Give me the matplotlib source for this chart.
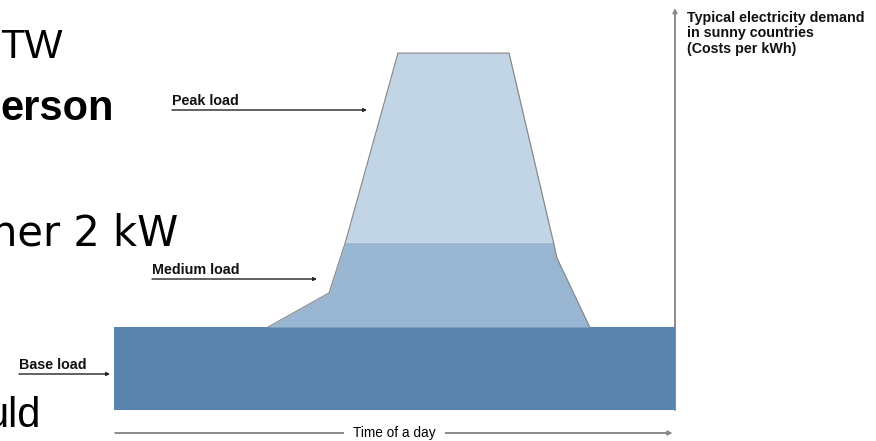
import numpy as np
import matplotlib.pyplot as plt

# load profile over one day (hours, demand in arbitrary cost units)
day_hours = [0, 24]
base_load = 10.0
medium_level = 20.2
profile_hours = [6.6, 9.2, 9.9, 12.15, 16.9, 18.8, 18.95, 20.35]
profile_demand = [10.0, 14.1, 20.2, 43.0, 43.0, 20.2, 18.3, 10.0]

base_color = '#5a84ad'
medium_color = '#98b6d2'
peak_color = '#c2d5e6'
axis_gray = '#8a8a8a'

W, H = 876, 441
fig = plt.figure(figsize=(W / 100, H / 100), dpi=100)
ax = fig.add_axes([0, 0, 1, 1])

# pixel layout of the day axis
x_left, x_right, y_zero = 114, 675, 410
hour_px = (x_right - x_left) / 24
unit_px = 8.3
ax.set_xlim(-x_left / hour_px, (W - x_left) / hour_px)
ax.set_ylim((y_zero - H) / unit_px, y_zero / unit_px)
ax.axis('off')


def fp(x, y):
    # figure fraction from pixel position
    return (x / W, 1 - y / H)


hours = np.array(profile_hours)
demand = np.array(profile_demand)

ax.fill_between(day_hours, 0, base_load, color=base_color, lw=0, zorder=1)
ax.fill_between(hours, base_load, np.minimum(demand, medium_level),
                color=medium_color, lw=0, zorder=2)
ax.fill_between(hours, medium_level, np.maximum(demand, medium_level),
                where=demand >= medium_level, color=peak_color, lw=0, zorder=2)
ax.plot(hours, demand, color=axis_gray, lw=0.9, zorder=3)

# axes arrows
ax.annotate('', xy=(24, (y_zero - 8) / unit_px), xytext=(24, 0),
            arrowprops=dict(arrowstyle='-|>', color=axis_gray, lw=1.4,
                            mutation_scale=6, shrinkA=0, shrinkB=0), zorder=0)
y_time = (y_zero - 433) / unit_px
ax.annotate('', xy=(23.9, y_time), xytext=(0.05, y_time),
            arrowprops=dict(arrowstyle='-|>', color=axis_gray, lw=1.4,
                            mutation_scale=6, shrinkA=0, shrinkB=0))
ax.text(12.0, y_time, 'Time of a day', family='Liberation Sans', fontsize=9.8,
        ha='center', va='center',
        bbox=dict(facecolor='white', edgecolor='none', pad=7))

ax.text(*fp(687, 11), 'Typical electricity demand\nin sunny countries\n(Costs per kWh)',
        transform=fig.transFigure, family='Liberation Sans', weight='bold',
        fontsize=10.3, va='top', ha='left', linespacing=1.12, color='#111111')

# load labels with pointer arrows
labels = [('Peak load', 172, 367, 110), ('Medium load', 152, 317, 279),
          ('Base load', 19, 110, 374)]
for text, x0, x1, y in labels:
    ax.text(*fp(x0, y - 5), text, transform=fig.transFigure,
            family='Liberation Sans', weight='bold', fontsize=10.3,
            va='baseline', ha='left', color='#111111')
    ax.annotate('', xy=fp(x1, y), xytext=fp(x0, y), xycoords='figure fraction',
                textcoords='figure fraction',
                arrowprops=dict(arrowstyle='-|>', color='#222222', lw=1.0,
                                mutation_scale=5, shrinkA=0, shrinkB=0))

# slide text behind the diagram
ax.text(*fp(0, 58), 'TW', transform=fig.transFigure, family='Liberation Sans',
        fontsize=29, va='baseline', ha='left')
ax.text(*fp(0, 120), 'erson', transform=fig.transFigure, family='Liberation Sans',
        weight='bold', fontsize=30, va='baseline', ha='left')
ax.text(*fp(-9, 245), 'her 2 kW', transform=fig.transFigure,
        family='DejaVu Sans', fontsize=30, va='baseline', ha='left')
ax.text(*fp(-15, 427), 'uld', transform=fig.transFigure, family='Liberation Sans',
        fontsize=30, va='baseline', ha='left')

fig.savefig('out.png', dpi=100, facecolor='white')
